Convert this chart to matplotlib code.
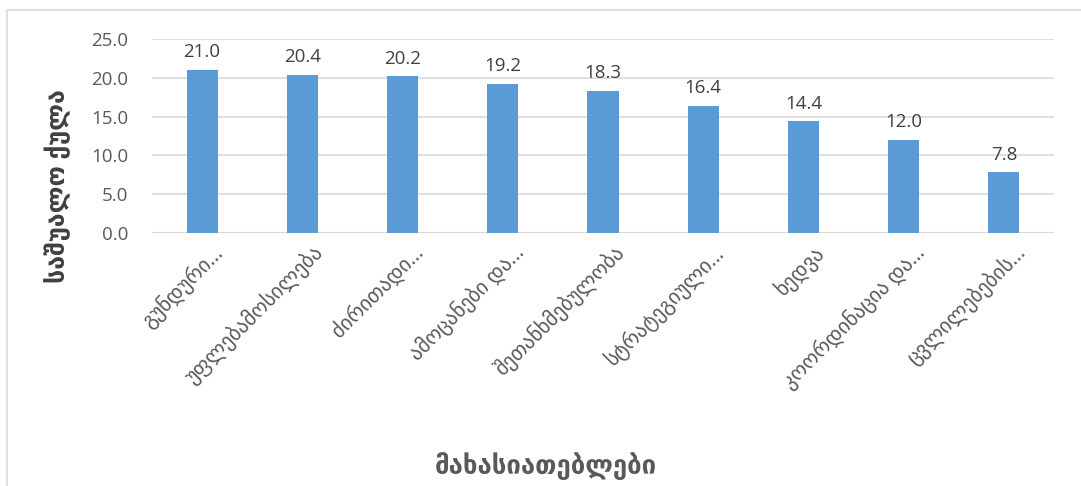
import matplotlib.pyplot as plt
from matplotlib.patches import Rectangle
from matplotlib.transforms import ScaledTranslation

# data
categories = ["გუნდური…", "უფლებამოსილება", "ძირითადი…", "ამოცანები და…",
              "შეთანხმებულობა", "სტრატეგიული…", "ხედვა",
              "კოორდინაცია და…", "ცვლილებების…"]
scores = [21.0, 20.4, 20.2, 19.2, 18.3, 16.4, 14.4, 12.0, 7.8]
yticks = [0, 5, 10, 15, 20, 25]

plt.rcParams['font.family'] = ['Open Sans', 'DejaVu Sans']
grey = '#595959'

fig = plt.figure(figsize=(10.81, 4.86), dpi=100)
ax = fig.add_axes([0.1406, 0.5206, 0.8344, 0.3992])

x = range(len(categories))
bars = ax.bar(x, scores, width=0.31, color='#5B9BD5', zorder=3)
for b, v in zip(bars, scores):
    ax.text(b.get_x() + b.get_width() / 2, v + 1.1, f"{v:.1f}",
            ha='center', va='bottom', fontsize=13.5, color='#404040')

ax.set_xlim(-0.5, len(categories) - 0.5)
ax.set_ylim(0, 25)
ax.set_yticks(yticks)
ax.set_yticklabels([f"{t:.1f}" for t in yticks], fontsize=13.5, color=grey)
ax.yaxis.grid(True, color='#D9D9D9', linewidth=1.2, zorder=0)
ax.tick_params(axis='both', length=0)
ax.tick_params(axis='y', pad=17)
ax.set_xticks(list(x))
ax.set_xticklabels(categories, rotation=45, ha='right', rotation_mode='anchor',
                   fontsize=15, color=grey)
ax.tick_params(axis='x', pad=6)
shift = ScaledTranslation(10 / 100, 0, fig.dpi_scale_trans)
for lbl in ax.get_xticklabels():
    lbl.set_transform(lbl.get_transform() + shift)
for s in ax.spines.values():
    s.set_visible(False)
ax.axhline(0, color='#D9D9D9', linewidth=1.5, zorder=2)

fig.text(0.053, 0.617, "საშუალო ქულა", rotation=90, ha='center', va='center',
         fontsize=18, fontweight='bold', color='#404040')
fig.text(0.505, 0.04, "მახასიათებლები", ha='center', va='center',
         fontsize=18.5, fontweight='bold', color=grey)

fig.patches.append(Rectangle((7 / 1081, -0.1), 1.2, 1 - 10 / 486 + 0.1,
                             transform=fig.transFigure, fill=False,
                             edgecolor='#D9D9D9', linewidth=1.2))

fig.savefig('out.png', dpi=100)
